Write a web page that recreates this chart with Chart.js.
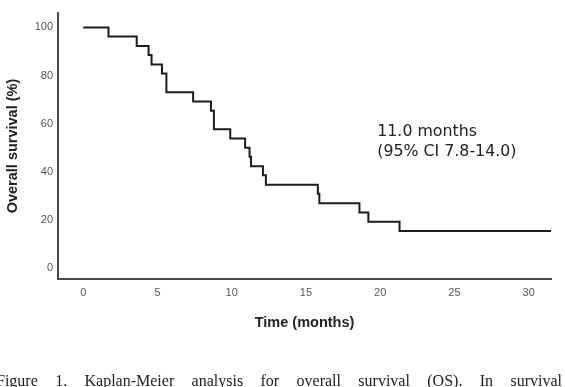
<!DOCTYPE html>
<html>
<head>
<meta charset="utf-8">
<script src="https://cdn.jsdelivr.net/npm/chart.js@4"></script>
<style>
  html, body { margin: 0; padding: 0; background: #fff; overflow: hidden; }
  #wrap { position: relative; width: 565px; height: 387px; }
  #caption {
    position: absolute; left: -4px; top: 373px; width: 566px;
    font-family: "Liberation Serif", serif; font-size: 16px; line-height: 16px;
    color: #222; text-align: justify; text-align-last: justify; white-space: nowrap;
  }
</style>
</head>
<body>
<div id="wrap">
  <canvas id="km"></canvas>
  <div id="caption">Figure 1. Kaplan-Meier analysis for overall survival (OS). In survival</div>
</div>
<script>
// Kaplan-Meier steps: time of event (months) and survival after it (%)
const months = [0, 1.7, 3.6, 4.4, 4.6, 5.3, 5.6, 7.4, 8.6, 8.8, 9.9, 10.9, 11.2, 11.3, 12.1, 12.3, 15.8, 15.9, 18.6, 19.2, 21.3, 31.5];
const survival = [100, 96.2, 92.3, 88.5, 84.6, 80.8, 73.1, 69.2, 65.4, 57.7, 53.8, 50, 46.2, 42.3, 38.5, 34.6, 30.8, 26.9, 23.1, 19.2, 15.4, 15.4];

const xTicks = [0, 5, 10, 15, 20, 25, 30];
const yTicks = [0, 20, 40, 60, 80, 100];
const noteLines = ['11.0 months', '(95% CI 7.8-14.0)'];

const points = months.map((m, i) => ({ x: m, y: survival[i] }));

const notePlugin = {
  id: 'note',
  afterDraw(chart) {
    const { ctx, scales } = chart;
    const x = scales.x.getPixelForValue(19.8);
    const y = scales.y.getPixelForValue(54.8);
    ctx.save();
    ctx.font = '15.8px "DejaVu Sans"';
    ctx.fillStyle = '#222';
    ctx.textBaseline = 'alphabetic';
    noteLines.forEach((t, i) => ctx.fillText(t, x, y + i * 20));
    ctx.restore();
  }
};

new Chart(document.getElementById('km'), {
  type: 'line',
  data: {
    datasets: [{
      data: points,
      stepped: 'before',
      borderColor: '#1c1c1c',
      borderWidth: 2,
      pointRadius: 0,
      fill: false
    }]
  },
  options: {
    responsive: true,
    maintainAspectRatio: false,
    animation: false,
    layout: { padding: { left: 0, top: 13, right: 14, bottom: 53 } },
    plugins: { legend: { display: false }, tooltip: { enabled: false } },
    scales: {
      x: {
        type: 'linear',
        min: -1.7,
        max: 31.5,
        afterBuildTicks: s => { s.ticks = xTicks.map(v => ({ value: v })); },
        afterFit: s => { s.height = 55; },
        grid: { display: false, drawTicks: false },
        border: { display: true, color: '#4a4a4a', width: 2 },
        ticks: { color: '#555', font: { family: 'Liberation Sans', size: 11 }, padding: 7, maxRotation: 0 },
        title: {
          display: true, text: 'Time (months)', color: '#222',
          font: { family: 'Liberation Sans', size: 14.5, weight: 'bold' },
          padding: { top: 0, bottom: 2 }
        }
      },
      y: {
        type: 'linear',
        min: -4.6,
        max: 106,
        afterBuildTicks: s => { s.ticks = yTicks.map(v => ({ value: v })); },
        afterFit: s => { s.width = 58; },
        grid: { display: false, drawTicks: false },
        border: { display: true, color: '#4a4a4a', width: 2 },
        ticks: { color: '#555', font: { family: 'Liberation Sans', size: 11 }, padding: 5 },
        title: {
          display: true, text: 'Overall survival (%)', color: '#222',
          font: { family: 'Liberation Sans', size: 14.5, weight: 'bold' },
          padding: { top: 4, bottom: 0 }
        }
      }
    }
  },
  plugins: [notePlugin]
});
</script>
</body>
</html>
